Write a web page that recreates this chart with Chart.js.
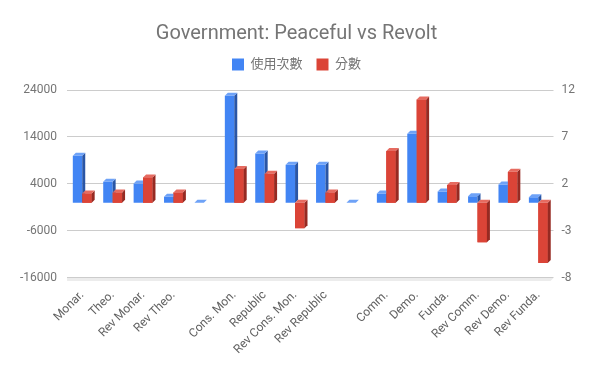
<!DOCTYPE html>
<html><head><meta charset="utf-8">
<script src="https://cdn.jsdelivr.net/npm/chart.js@4/dist/chart.umd.min.js"></script>
<style>html,body{margin:0;padding:0;background:#fff}#wrap{width:600px;height:371px}</style>
</head><body><div id="wrap"><canvas id="c" width="600" height="371"></canvas></div>
<script>
const categories = ["Monar.","Theo.","Rev Monar.","Rev Theo.","","Cons. Mon.","Republic","Rev Cons. Mon.","Rev Republic","","Comm.","Demo.","Funda.","Rev Comm.","Rev Demo.","Rev Funda."];
const usage = [10000,4500,4100,1300,0,22800,10500,8100,8100,0,2000,14700,2400,1400,3900,1200];
const score = [1.0,1.1,2.7,1.1,null,3.6,3.1,-2.7,1.1,null,5.5,11.0,1.9,-4.2,3.3,-6.4];
const leftTicks = [-16000,-6000,4000,14000,24000];
const rightTicks = [-8,-3,2,7,12];

const D = 3;
function drawFaces(chart, idx){
  const ds = chart.data.datasets[idx];
  const meta = chart.getDatasetMeta(idx);
  const ctx = chart.ctx;
  meta.data.forEach((el,j)=>{
    if (ds.data[j]==null) return;
    const p = el.getProps(['x','y','base','width'], true);
    const l = p.x - p.width/2, r = p.x + p.width/2;
    const top = Math.min(p.y,p.base), bot = Math.max(p.y,p.base);
    ctx.fillStyle = ds.sideColor;
    ctx.beginPath(); ctx.moveTo(r,top); ctx.lineTo(r+D,top-D); ctx.lineTo(r+D,bot-D); ctx.lineTo(r,bot); ctx.closePath(); ctx.fill();
    ctx.fillStyle = ds.topColor;
    ctx.beginPath(); ctx.moveTo(l,top); ctx.lineTo(l+D,top-D); ctx.lineTo(r+D,top-D); ctx.lineTo(r,top); ctx.closePath(); ctx.fill();
  });
}
const bar3d = {
  id:'bar3d',
  afterInit(chart){
    const lg = chart.legend;
    if (lg && !lg._patched){
      const orig = lg.fit;
      lg.fit = function(){ orig.call(this); this.height += 9; };
      lg._patched = true;
    }
  },
  beforeDatasetsDraw(chart){
    const a = chart.chartArea, ctx = chart.ctx;
    ctx.save();
    ctx.fillStyle = '#ececec';
    ctx.beginPath();
    ctx.moveTo(a.left, a.bottom); ctx.lineTo(a.right, a.bottom);
    ctx.lineTo(a.right - D, a.bottom + D); ctx.lineTo(a.left, a.bottom + D);
    ctx.closePath(); ctx.fill();
    ctx.restore();
  },
  afterDatasetsDraw(chart){
    const ctx = chart.ctx;
    ctx.save();
    drawFaces(chart, 0);
    const m1 = chart.getDatasetMeta(1);
    m1.data.forEach((el,j)=>{ if (chart.data.datasets[1].data[j]!=null) el.draw(ctx, chart.chartArea); });
    drawFaces(chart, 1);
    ctx.restore();
  }
};

new Chart(document.getElementById('c'), {
  type:'bar',
  data:{
    labels: categories,
    datasets:[
      {label:'使用次數', data: usage, yAxisID:'yL', backgroundColor:'#4285f4', topColor:'#6ea2f7', sideColor:'#2a56a6'},
      {label:'分數', data: score, yAxisID:'yR', backgroundColor:'#db4437', topColor:'#e66b60', sideColor:'#962a22'}
    ]
  },
  plugins:[bar3d],
  options:{
    responsive:false, animation:false,
    layout:{padding:{left:10,right:17,top:0,bottom:12}},
    datasets:{bar:{categoryPercentage:0.62, barPercentage:1}},
    plugins:{
      title:{display:true, text:'Government: Peaceful vs Revolt', color:'#757575',
        font:{family:'Roboto', size:20, weight:'normal'}, padding:{top:22,bottom:-2}},
      legend:{display:true, labels:{color:'#757575', font:{family:'Roboto, "Noto Sans CJK TC"', size:13}, boxWidth:12, boxHeight:12, padding:14}},
      tooltip:{enabled:false}
    },
    scales:{
      x:{grid:{display:false}, border:{display:false},
        ticks:{color:'#616161', font:{family:'Roboto', size:12}, minRotation:45, maxRotation:45, autoSkip:false, padding:2}},
      yL:{position:'left', min:-16000, max:24000,
        afterBuildTicks(s){ s.ticks = leftTicks.map(v=>({value:v})); },
        grid:{color:'#cccccc', drawTicks:false}, border:{display:false},
        ticks:{color:'#757575', font:{family:'Roboto', size:12}, padding:10, callback:v=>String(v)}},
      yR:{position:'right', min:-8, max:12,
        afterBuildTicks(s){ s.ticks = rightTicks.map(v=>({value:v})); },
        grid:{display:false, drawTicks:false}, border:{display:false},
        ticks:{color:'#757575', font:{family:'Roboto', size:12}, padding:8, callback:v=>String(v)}}
    }
  }
});
</script></body></html>
